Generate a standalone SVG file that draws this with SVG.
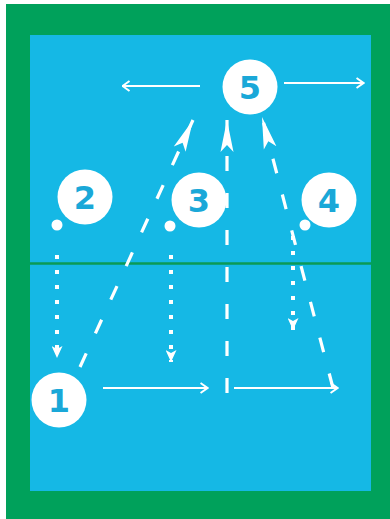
<svg xmlns="http://www.w3.org/2000/svg" width="390" height="519" viewBox="0 0 390 519">
  <style>
    .node circle.big { fill: #ffffff; }
    .node circle.dot { fill: #ffffff; }
    .node text { font-family: "DejaVu Sans", "Liberation Sans", sans-serif; font-weight: bold; font-size: 32px; fill: #1aa8d8; text-anchor: middle; dominant-baseline: central; }
    .thin { stroke: #ffffff; stroke-width: 2; fill: none; marker-end: url(#chev); }
    .dotted { stroke: #ffffff; stroke-width: 4; fill: none; stroke-dasharray: 4 11; marker-end: url(#tri); }
    .dashed { stroke: #ffffff; stroke-width: 3.2; fill: none; stroke-dasharray: 15 22; marker-end: url(#longhead); }
  </style>
  <defs>
    <marker id="chev" viewBox="0 0 9 12" refX="8.5" refY="6" markerWidth="9" markerHeight="12" markerUnits="userSpaceOnUse" orient="auto">
      <path d="M1,1 L8,6 L1,11" fill="none" stroke="#ffffff" stroke-width="2"/>
    </marker>
    <marker id="tri" viewBox="0 0 12 11" refX="12" refY="5.5" markerWidth="12" markerHeight="11" markerUnits="userSpaceOnUse" orient="auto">
      <path d="M12,5.5 L0,0 L3,5.5 L0,11 Z" fill="#ffffff"/>
    </marker>
    <marker id="longhead" viewBox="0 0 32 15" refX="32" refY="7.5" markerWidth="32" markerHeight="15" markerUnits="userSpaceOnUse" orient="auto">
      <path d="M32,7.5 L0,1 L7,7.5 L0,14 Z" fill="#ffffff"/>
    </marker>
  </defs>

  <rect x="6" y="4" width="384" height="515" fill="#00a15b"/>
  <rect x="30" y="35" width="341" height="456" fill="#15b8e5"/>
  <line x1="30" y1="263.5" x2="371" y2="263.5" stroke="#0b9a55" stroke-width="2.5"/>

  <g id="connectors">
    <path class="thin" d="M200,86 L122,86"/>
    <path class="thin" d="M284,83 L364,83"/>
    <path class="thin" d="M103,388 L208,388"/>
    <path class="thin" d="M234,388 L338,388"/>
    <path class="dotted" d="M57,255 L57,358"/>
    <path class="dotted" d="M171,255 L171,362"/>
    <path class="dotted" d="M293,236 L293,330"/>
    <path class="dashed" d="M80,367 L193,120"/>
    <path class="dashed" d="M227,393 L227,120"/>
    <path class="dashed" d="M333,388 L262,117"/>
  </g>

  <g id="node-5" class="node">
    <circle class="big" cx="250" cy="87" r="27.5"/>
    <text x="250" y="88">5</text>
  </g>
  <g id="node-2" class="node">
    <circle class="dot" cx="57" cy="225" r="5.5"/>
    <circle class="big" cx="85" cy="197" r="27.5"/>
    <text x="85" y="198">2</text>
  </g>
  <g id="node-3" class="node">
    <circle class="dot" cx="170" cy="226" r="5.5"/>
    <circle class="big" cx="199" cy="200" r="27.5"/>
    <text x="199" y="201">3</text>
  </g>
  <g id="node-4" class="node">
    <circle class="dot" cx="305" cy="225" r="5.5"/>
    <circle class="big" cx="329" cy="200" r="27.5"/>
    <text x="329" y="201">4</text>
  </g>
  <g id="node-1" class="node">
    <circle class="big" cx="59" cy="400" r="27.5"/>
    <text x="59" y="401">1</text>
  </g>
</svg>
